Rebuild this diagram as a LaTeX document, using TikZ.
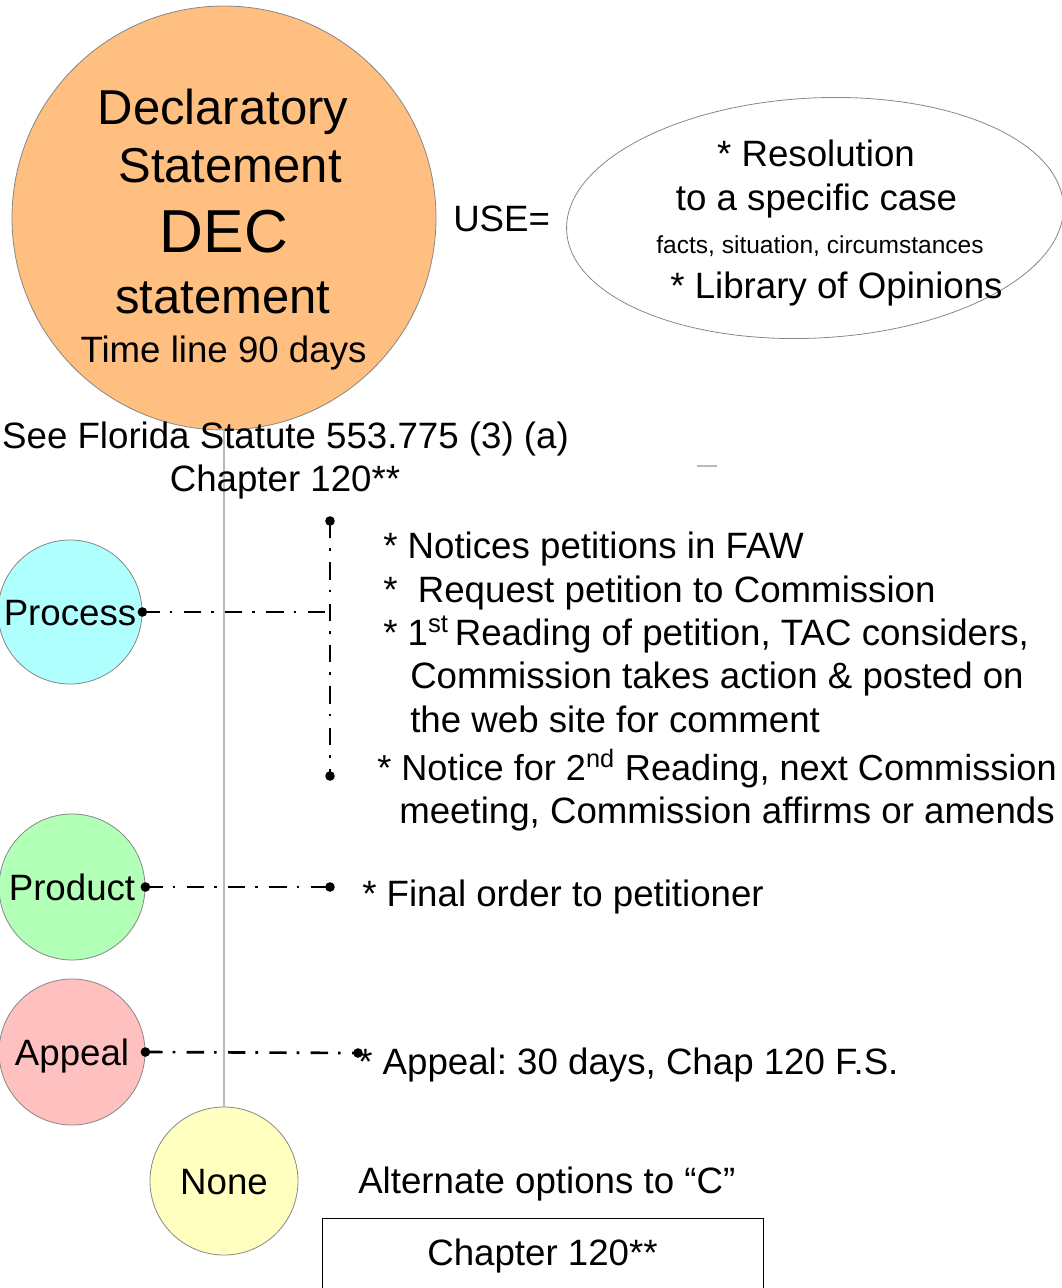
\documentclass[tikz,border=0pt]{standalone}
\usepackage{fontspec}
\setmainfont{Liberation Sans}
\usetikzlibrary{shapes.geometric}
\frenchspacing

\definecolor{decorange}{RGB}{255,191,128}
\definecolor{proccyan}{RGB}{175,255,255}
\definecolor{prodgreen}{RGB}{178,255,184}
\definecolor{appealpink}{RGB}{255,192,192}
\definecolor{noneyellow}{RGB}{255,255,192}
\definecolor{rimgray}{RGB}{135,135,135}
\definecolor{spinegray}{RGB}{185,185,185}

\newcommand{\fsBig}{\fontsize{36.75}{40}\selectfont}
\newcommand{\fsDec}{\fontsize{45.5}{50}\selectfont}
\newcommand{\fsMid}{\fontsize{27.5}{32}\selectfont}
\newcommand{\fsSmall}{\fontsize{18.4}{22}\selectfont}

\tikzset{
  bubble/.style={circle, draw=rimgray, line width=0.6pt, inner sep=0pt,
    font=\fsMid, text height=19.7pt, text depth=0pt},
  txt/.style={inner sep=0pt, font=\fsMid},
  ctr/.style={txt, anchor=base},
  lft/.style={txt, anchor=base west},
  dashdot/.style={line width=2pt, line cap=butt,
    dash pattern=on 13pt off 7.5pt on 2pt off 8.5pt},
  enddot/.style={fill=black},
}

\begin{document}
\begin{tikzpicture}[x=0.75pt, y=-0.75pt]
\useasboundingbox (0,0) rectangle (1062,1288);
\clip (0,0) rectangle (1062,1288);

% main bubble and the stage bubbles
\node[bubble, fill=decorange, minimum size=318pt] (dec) at (224,218) {};
\node[bubble, fill=proccyan, minimum size=108pt] (proc) at (70,612) {Process};
\node[bubble, fill=prodgreen, minimum size=109.5pt] (prod) at (72,887) {Product};
\node[bubble, fill=appealpink, minimum size=109.5pt] (app) at (72,1052) {Appeal};
\node[bubble, fill=noneyellow, minimum size=111pt] (none) at (224,1181) {None};

% spine joining the main bubble to the last option
\draw[spinegray, line width=1.5pt] (dec.south) -- (none.north);

% text inside the main bubble
\node[ctr, font=\fsBig] (d1) at (223,124) {Declaratory};
\node[ctr, font=\fsBig] (d2) at (230,182) {Statement};
\node[ctr, font=\fsDec] (d3) at (224,252) {DEC};
\node[ctr, font=\fsBig] (d4) at (223,313) {statement};
\node[ctr] (d5) at (223.5,362) {Time line 90 days};

% use ellipse
\node[lft] (use) at (453,231) {USE=};
\node[ellipse, draw=rimgray, line width=0.6pt, minimum width=373pt,
      minimum height=180pt, rotate=3] (uses) at (815,218) {};
\node[ctr] (u1) at (816,166) {* Resolution};
\node[ctr] (u2) at (816.5,210) {to a specific case};
\node[ctr, font=\fsSmall] (u3) at (820,253) {facts, situation, circumstances};
\node[ctr] (u4) at (836.5,298) {* Library of Opinions};

% statute reference
\node[ctr] (s1) at (285.5,448) {See Florida Statute 553.775 (3) (a)};
\node[ctr] (s2) at (285,491) {Chapter 120**};
\draw[spinegray, line width=0.8pt] (697,466) -- (717,466);

% process connector
\coordinate (pj) at (330,612);
\coordinate (ptop) at (330,521);
\coordinate (pbot) at (330,776);
\draw[dashdot] (proc.east) -- (pj);
\draw[dashdot] (ptop) -- (pbot);
\fill[enddot] (proc.east) circle[radius=3.6pt];
\fill[enddot] (ptop) circle[radius=3.6pt];
\fill[enddot] (pbot) circle[radius=3.6pt];

% process steps
\node[lft] (p1) at (383,558) {* Notices petitions in FAW};
\node[lft] (p2) at (383,602) {*~~Request petition to Commission};
\node[lft] (p3) at (383,645) {* 1\textsuperscript{st}\,Reading of petition, TAC considers,};
\node[lft] (p4) at (410,688) {Commission takes action \& posted on};
\node[lft] (p5) at (410,732) {the web site for comment};
\node[lft, font=\fontsize{27.1}{32}\selectfont] (p6) at (377,780)
  {* Notice for 2\textsuperscript{nd} Reading, next Commission};
\node[lft] (p7) at (399,823) {meeting, Commission affirms or amends};

% product connector
\coordinate (prodend) at (330,887);
\draw[dashdot] (prod.east) -- (prodend);
\fill[enddot] (prod.east) circle[radius=3.6pt];
\fill[enddot] (prodend) circle[radius=3.6pt];
\node[lft] (f1) at (362,906) {* Final order to petitioner};

% appeal connector
\coordinate (append) at (358,1053);
\draw[dashdot] (app.east) -- (append);
\fill[enddot] (app.east) circle[radius=3.6pt];
\fill[enddot] (append) circle[radius=3.6pt];
\node[lft] (a1) at (358,1074) {* Appeal: 30 days, Chap 120 F.S.};

% alternate options
\node[lft] (alt) at (358,1193) {Alternate options to “C”};
\node[draw=black, line width=0.75pt, rectangle, anchor=north, font=\fsMid,
      minimum width=330.75pt, inner xsep=0pt, inner ysep=15.75pt,
      text height=19.5pt, text depth=45pt] (chap) at (542.5,1218) {Chapter 120**};
\end{tikzpicture}
\end{document}
